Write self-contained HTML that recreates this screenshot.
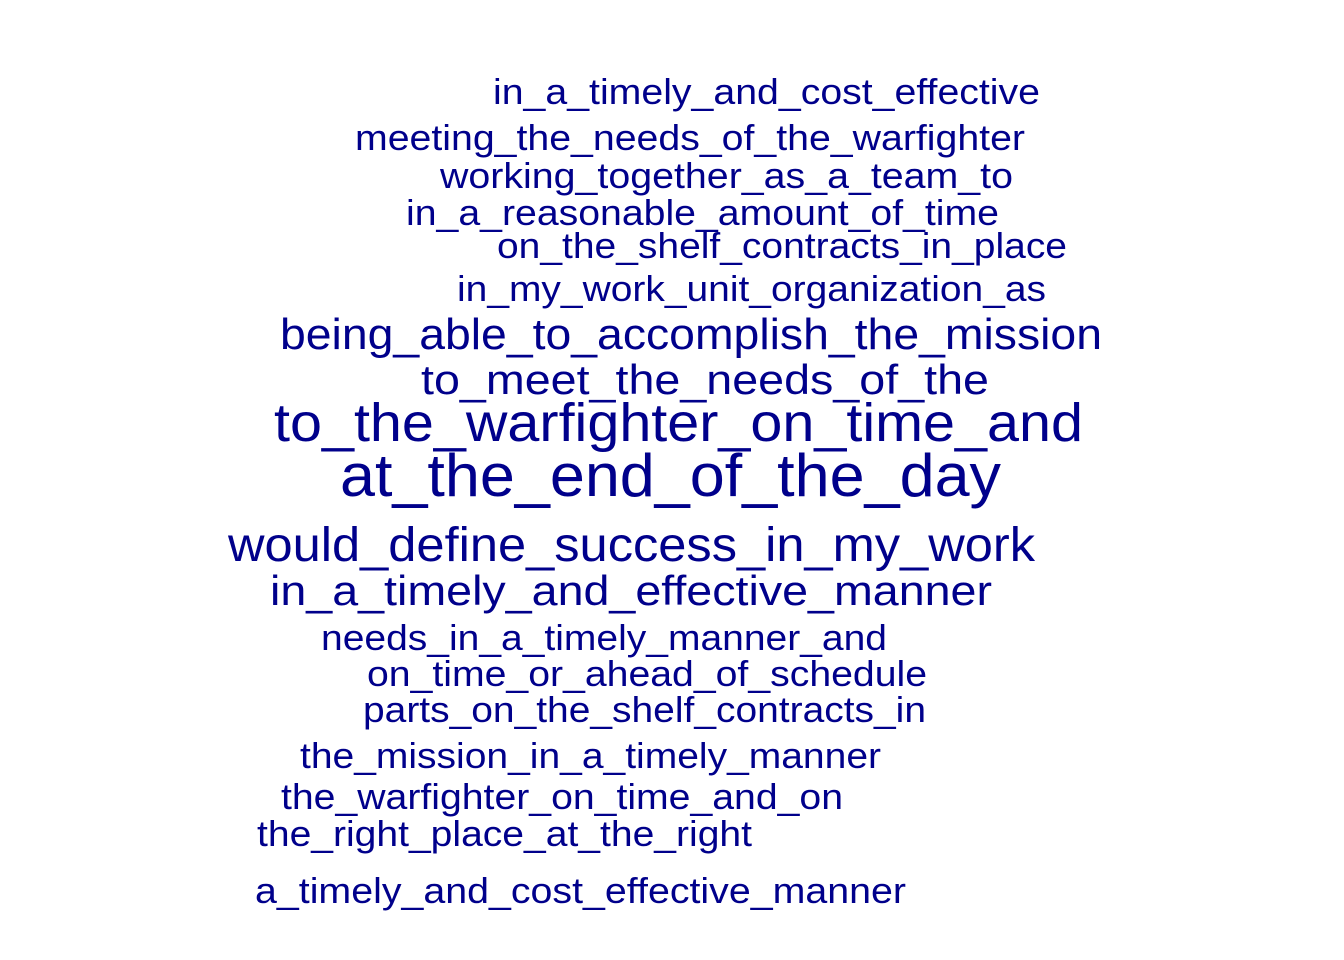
<!DOCTYPE html>
<html><head><meta charset="utf-8"><style>
html,body{margin:0;padding:0;background:#fff;}
svg{display:block;}
text{font-family:"Liberation Sans",Arial,sans-serif;fill:#00008B;}
</style></head><body>
<svg width="1344" height="960">
<g id="words"></g>
</svg>
<script>
const phrases=["in_a_timely_and_cost_effective","meeting_the_needs_of_the_warfighter","working_together_as_a_team_to","in_a_reasonable_amount_of_time","on_the_shelf_contracts_in_place","in_my_work_unit_organization_as","being_able_to_accomplish_the_mission","to_meet_the_needs_of_the","to_the_warfighter_on_time_and","at_the_end_of_the_day","would_define_success_in_my_work","in_a_timely_and_effective_manner","needs_in_a_timely_manner_and","on_time_or_ahead_of_schedule","parts_on_the_shelf_contracts_in","the_mission_in_a_timely_manner","the_warfighter_on_time_and_on","the_right_place_at_the_right","a_timely_and_cost_effective_manner"];
const sizes=[36,36,36,36,36,36,44,42,54,60,48,42,36,36,36,36,36,36,36];
const layout=[[493,104,1040],[355,150,1025],[440,188,1013],[406,225,999],[497,258,1067],[457,301,1046],[280,349,1102],[421,394,989],[274,441,1083],[340,496,1001],[228,561,1035],[270,605,992],[321,650,887],[367,686,927],[363,722,926],[300,768,881],[281,809,843],[257,846,752],[255,903,906]];
const g=document.getElementById('words');
phrases.forEach((p,i)=>{
  const t=document.createElementNS('http://www.w3.org/2000/svg','text');
  const [x,y,x2]=layout[i];
  t.setAttribute('x',x);t.setAttribute('y',y);
  t.setAttribute('font-size',sizes[i]);
  t.setAttribute('textLength',x2-x);
  t.setAttribute('lengthAdjust','spacingAndGlyphs');
  
  
  t.textContent=p;
  g.appendChild(t);
});
</script>
</body></html>
